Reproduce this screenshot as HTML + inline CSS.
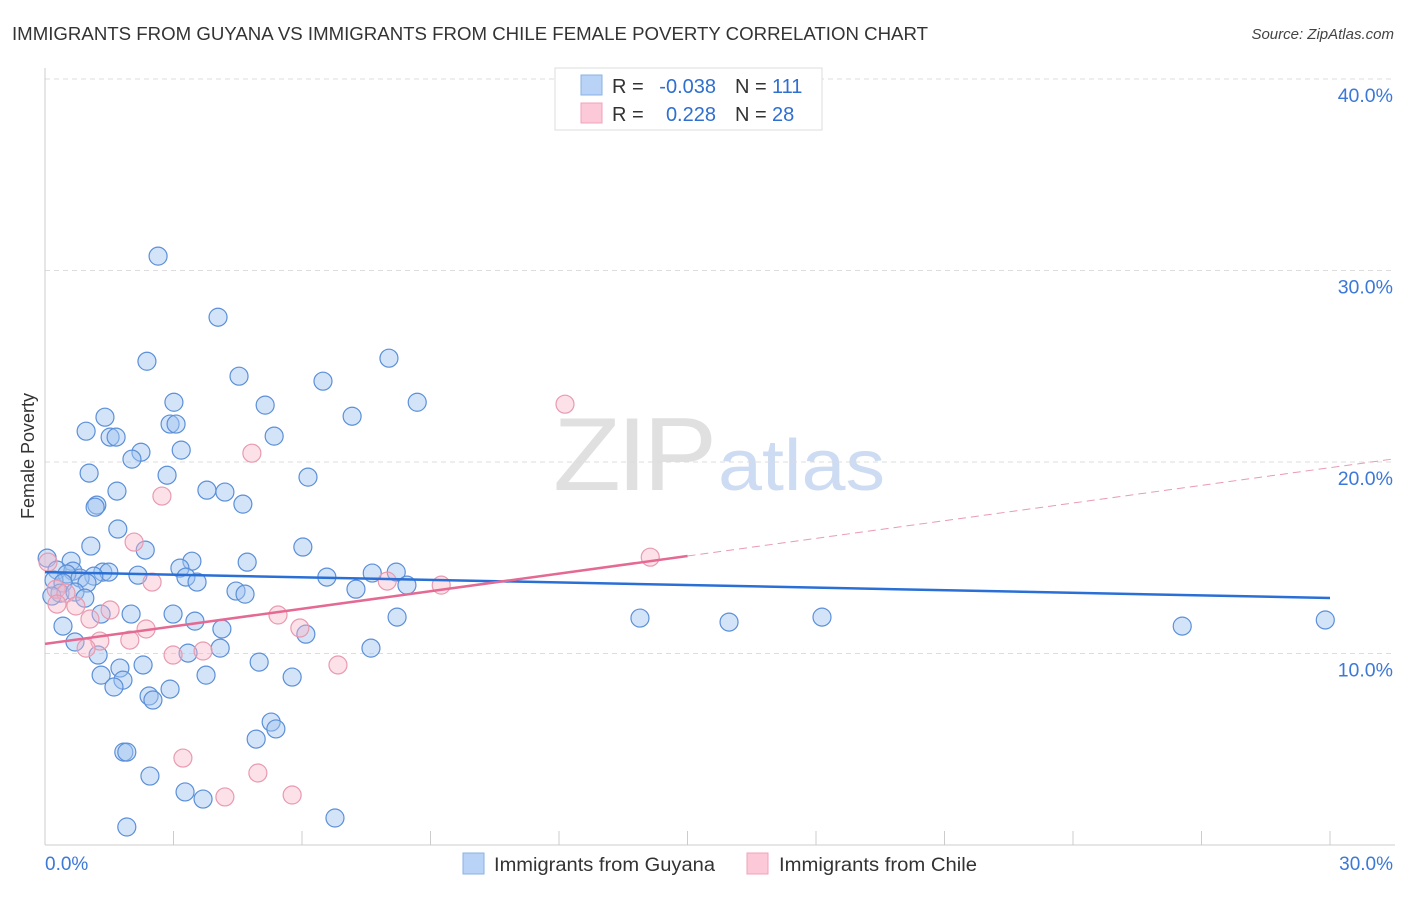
<!DOCTYPE html>
<html><head><meta charset="utf-8"><style>
body{margin:0;background:#fff;font-family:"Liberation Sans",sans-serif;}
svg text{font-family:"Liberation Sans",sans-serif;}
</style></head><body>
<svg width="1406" height="892" viewBox="0 0 1406 892" xmlns="http://www.w3.org/2000/svg">
<text x="12" y="40" font-size="18" fill="#333" textLength="916" lengthAdjust="spacingAndGlyphs">IMMIGRANTS FROM GUYANA VS IMMIGRANTS FROM CHILE FEMALE POVERTY CORRELATION CHART</text>
<text x="1394" y="39" font-size="15" fill="#444" text-anchor="end" font-style="italic">Source: ZipAtlas.com</text>
<text x="553" y="490" font-size="104" fill="#e0e0e0" font-family="Liberation Serif" letter-spacing="-4" textLength="160" lengthAdjust="spacingAndGlyphs">ZIP</text>
<text x="718" y="490" font-size="72" fill="#cddcf2" textLength="167" lengthAdjust="spacingAndGlyphs">atlas</text>
<g id="grid"></g>
<g id="axes"></g>
<text transform="translate(34,456) rotate(-90)" font-size="18" fill="#333" text-anchor="middle">Female Poverty</text>
<g id="pts"></g>
<g id="lines"></g>
<g>
<rect x="555" y="68" width="267" height="62" fill="#fff" stroke="#ddd"/>
<rect x="581" y="75" width="21" height="20" fill="#b8d3f5" stroke="#8ab2e6"/>
<rect x="581" y="103" width="21" height="20" fill="#fcc9d8" stroke="#f0a3bb"/>
<text x="612" y="93" font-size="20" fill="#333">R =</text>
<text x="716" y="93" font-size="20" fill="#2f6fd0" text-anchor="end">-0.038</text>
<text x="735" y="93" font-size="20" fill="#333">N =</text>
<text x="772" y="93" font-size="20" fill="#2f6fd0">111</text>
<text x="612" y="121" font-size="20" fill="#333">R =</text>
<text x="716" y="121" font-size="20" fill="#2f6fd0" text-anchor="end">0.228</text>
<text x="735" y="121" font-size="20" fill="#333">N =</text>
<text x="772" y="121" font-size="20" fill="#2f6fd0">28</text>
</g>
<g>
<rect x="463" y="853" width="21" height="21" fill="#b8d3f5" stroke="#8ab2e6"/>
<text x="494" y="871" font-size="19" fill="#333" textLength="221" lengthAdjust="spacingAndGlyphs">Immigrants from Guyana</text>
<rect x="747" y="853" width="21" height="21" fill="#fcc9d8" stroke="#f0a3bb"/>
<text x="779" y="871" font-size="19" fill="#333" textLength="198" lengthAdjust="spacingAndGlyphs">Immigrants from Chile</text>
</g>
</svg>
<script>
const yTicks=[10,20,30,40];
const yTickLabels=["10.0%","20.0%","30.0%","40.0%"];
const xTicks=[0,3,6,9,12,15,18,21,24,27,30];
const guyanaX=[2.64,4.04,2.38,4.53,8.03,6.49,8.69,5.14,3.01,7.17,1.40,0.96,1.52,1.66,2.92,3.06,5.35,2.24,3.18,2.03,1.03,2.85,6.14,1.68,3.78,4.20,1.21,1.17,4.62,1.70,1.07,2.34,6.02,0.05,3.43,4.72,0.61,0.28,0.65,1.35,1.49,3.15,2.17,3.29,7.64,8.20,6.58,0.51,1.14,0.82,0.21,0.42,0.98,3.55,7.26,8.45,4.46,4.67,0.35,0.70,0.16,0.93,2.99,2.01,1.31,3.50,8.22,13.89,15.97,18.14,26.55,29.89,0.42,4.13,6.09,0.70,4.09,3.34,7.61,1.24,5.00,1.75,2.29,1.31,5.77,3.76,1.82,1.61,2.92,2.43,2.52,5.28,5.39,4.93,1.84,1.91,2.45,3.27,3.69,6.77,1.91];
const guyanaY=[30.75,27.56,25.26,24.48,25.42,24.22,23.12,22.97,23.12,22.39,22.34,21.61,21.30,21.30,21.98,21.98,21.35,20.51,20.62,20.15,19.42,19.31,19.21,18.48,18.53,18.43,17.75,17.64,17.80,16.50,15.61,15.40,15.56,14.98,14.82,14.77,14.82,14.36,14.30,14.25,14.25,14.46,14.09,13.99,14.20,14.25,13.99,14.15,14.04,13.94,13.83,13.68,13.68,13.73,13.36,13.57,13.26,13.10,13.15,13.21,13.00,12.89,12.06,12.06,12.06,11.69,11.90,11.85,11.64,11.90,11.43,11.75,11.43,11.28,11.01,10.60,10.28,10.02,10.28,9.92,9.55,9.24,9.40,8.87,8.77,8.87,8.61,8.25,8.14,7.78,7.57,6.42,6.06,5.53,4.85,4.85,3.60,2.77,2.40,1.41,0.94];
const chileX=[12.14,4.83,2.73,2.08,14.13,0.07,2.50,7.99,9.25,0.26,0.49,1.52,0.28,0.72,1.05,5.44,5.95,2.36,1.98,1.28,0.96,2.99,3.69,6.84,3.22,4.97,4.20,5.77];
const chileY=[23.02,20.46,18.22,15.82,15.03,14.77,13.73,13.78,13.57,13.36,13.15,12.27,12.58,12.48,11.80,12.01,11.33,11.28,10.70,10.65,10.28,9.92,10.13,9.40,4.54,3.76,2.51,2.61];
const guyanaTrend=[14.25,12.9];
const chileTrend=[10.5,15.09,19.7];
const chileTrendX=[0,15.0,30];
const NS="http://www.w3.org/2000/svg";
const X=v=>45+v*(1285/30), Y=v=>845-v*19.15;
function mk(t,a,p){const e=document.createElementNS(NS,t);for(const k in a)e.setAttribute(k,a[k]);p.appendChild(e);return e;}
const grid=document.getElementById('grid'),axes=document.getElementById('axes'),pts=document.getElementById('pts'),lines=document.getElementById('lines');
yTicks.forEach((t,i)=>{
 const l=mk('line',{x1:45,x2:1395,y1:Y(t),y2:Y(t),stroke:'#ddd','stroke-dasharray':'5,4'},grid);
 
 
 const tx=mk('text',{x:1393,y:Y(t)+23,'font-size':19.5,fill:'#3b78d8','text-anchor':'end'},grid);
 tx.textContent=yTickLabels[i];
 
 
});
const ax=mk('line',{x1:45,x2:45,y1:68,y2:845,stroke:'#ccc'},axes);


const bx=mk('line',{x1:45,x2:1395,y1:845,y2:845,stroke:'#ccc'},axes);


xTicks.forEach(t=>{
 const l=mk('line',{x1:X(t),x2:X(t),y1:831,y2:845,stroke:'#ccc'},axes);
 
 
});
const x0=mk('text',{x:45,y:870,'font-size':19,fill:'#3b78d8'},axes);x0.textContent='0.0%';


const x1=mk('text',{x:1393,y:870,'font-size':19,fill:'#3b78d8','text-anchor':'end'},axes);x1.textContent='30.0%';


guyanaX.forEach((v,i)=>{
 const c=mk('circle',{cx:X(v),cy:Y(guyanaY[i]),r:9,fill:'rgba(160,196,240,0.45)',stroke:'#5b8fd8','stroke-width':1.2},pts);
 
 
});
chileX.forEach((v,i)=>{
 const c=mk('circle',{cx:X(v),cy:Y(chileY[i]),r:9,fill:'rgba(248,180,200,0.4)',stroke:'#e89ab0','stroke-width':1.2},pts);
 
 
});
const bl=mk('line',{x1:X(0),y1:Y(guyanaTrend[0]),x2:X(30),y2:Y(guyanaTrend[1]),stroke:'#2a6fd6','stroke-width':2.5},lines);


const pl=mk('line',{x1:X(chileTrendX[0]),y1:Y(chileTrend[0]),x2:X(chileTrendX[1]),y2:Y(chileTrend[1]),stroke:'#e46a93','stroke-width':2.5},lines);


const pd=mk('line',{x1:X(chileTrendX[1]),y1:Y(chileTrend[1]),x2:X(chileTrendX[2])+65,y2:Y(chileTrend[2])-9,stroke:'#e99ab4','stroke-width':1,'stroke-dasharray':'8,5'},lines);


</script>
</body></html>
